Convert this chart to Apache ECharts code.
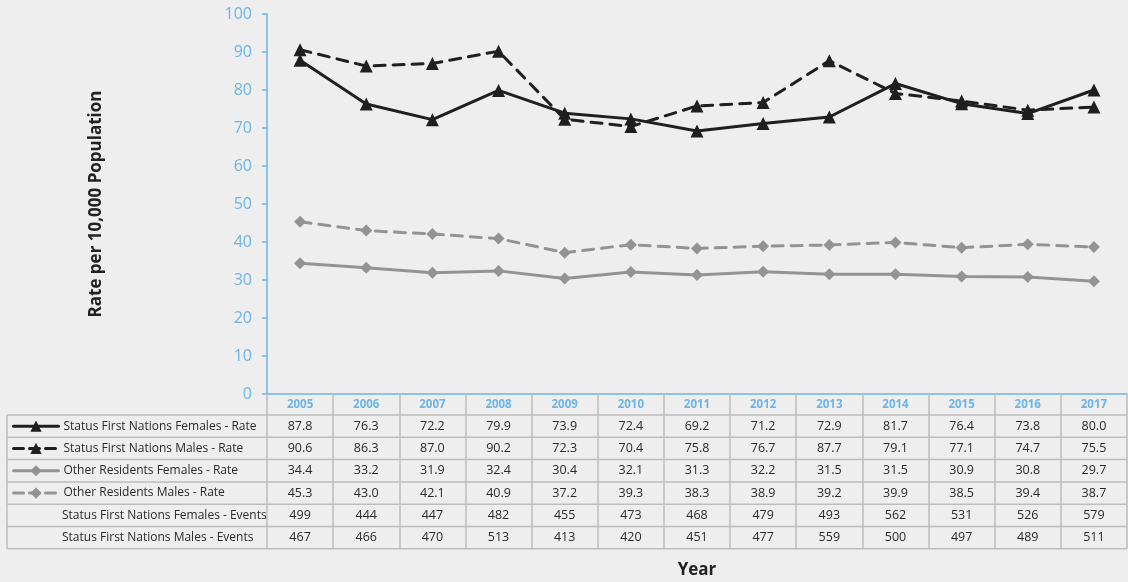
<!DOCTYPE html>
<html>
<head>
<meta charset="utf-8">
<script src="https://cdn.jsdelivr.net/npm/echarts@6/dist/echarts.min.js"></script>
<style>
  html, body { margin: 0; padding: 0; background: #eeeeee; }
  #chart { width: 1128px; height: 582px; }
</style>
</head>
<body>
<div id="chart"></div>
<script>
// Categories
const years = ['2005','2006','2007','2008','2009','2010','2011','2012','2013','2014','2015','2016','2017'];

// Rates per 10,000 population
const sfnFemalesRate = [87.8, 76.3, 72.2, 79.9, 73.9, 72.4, 69.2, 71.2, 72.9, 81.7, 76.4, 73.8, 80.0];
const sfnMalesRate   = [90.6, 86.3, 87.0, 90.2, 72.3, 70.4, 75.8, 76.7, 87.7, 79.1, 77.1, 74.7, 75.5];
const orFemalesRate  = [34.4, 33.2, 31.9, 32.4, 30.4, 32.1, 31.3, 32.2, 31.5, 31.5, 30.9, 30.8, 29.7];
const orMalesRate    = [45.3, 43.0, 42.1, 40.9, 37.2, 39.3, 38.3, 38.9, 39.2, 39.9, 38.5, 39.4, 38.7];

// Event counts
const sfnFemalesEvents = [499, 444, 447, 482, 455, 473, 468, 479, 493, 562, 531, 526, 579];
const sfnMalesEvents   = [467, 466, 470, 513, 413, 420, 451, 477, 559, 500, 497, 489, 511];

// Row labels
const rowNames = [
  'Status First Nations Females - Rate',
  'Status First Nations Males - Rate',
  'Other Residents Females - Rate',
  'Other Residents Males - Rate',
  'Status First Nations Females - Events',
  'Status First Nations Males - Events'
];

// Y axis
const yMin = 0, yMax = 100, yStep = 10;

// Layout
const W = 1128;
const GRID_LEFT = 267, GRID_RIGHT = 1, GRID_TOP = 14, GRID_H = 380;
const AXIS_Y = GRID_TOP + GRID_H;        // 394
const HEADER_H = 21;
const ROW_H = 22.3;
const TABLE_LEFT = 7;
const TABLE_RIGHT = W - GRID_RIGHT;
const FONT = '"Open Sans", "Noto Sans", sans-serif';
const BLUE = '#6db5e6';
const GRID_GRAY = '#bdbdbd';
const BLACK = '#1f1f1f';
const GREY = '#939393';

const rows = [
  sfnFemalesRate.map(v => v.toFixed(1)),
  sfnMalesRate.map(v => v.toFixed(1)),
  orFemalesRate.map(v => v.toFixed(1)),
  orMalesRate.map(v => v.toFixed(1)),
  sfnFemalesEvents.map(String),
  sfnMalesEvents.map(String)
];
const nRows = rows.length;
const tableBottom = AXIS_Y + HEADER_H + ROW_H * nRows;
const rowCenter = i => AXIS_Y + HEADER_H + ROW_H * i + ROW_H / 2;

// Main category axis (header row with years) plus one axis per table row
const xAxes = [{
  type: 'category',
  data: years,
  boundaryGap: true,
  axisLine: { show: true, lineStyle: { color: BLUE, width: 1.5 } },
  axisTick: { show: true, interval: 0, length: tableBottom - AXIS_Y, lineStyle: { color: GRID_GRAY, width: 1.5 } },
  axisLabel: { interval: 0, margin: HEADER_H / 2, verticalAlign: 'middle', color: BLUE, fontFamily: FONT, fontSize: 11.5, fontWeight: 'bold' },
  splitLine: { show: false }
}];
rows.forEach((r, i) => {
  xAxes.push({
    type: 'category',
    gridIndex: 0,
    position: 'bottom',
    data: r,
    offset: rowCenter(i) - AXIS_Y,
    boundaryGap: true,
    axisLine: { show: false },
    axisTick: { show: false },
    axisPointer: { show: false },
    axisLabel: { interval: 0, margin: 0, verticalAlign: 'middle', color: '#2a2a2a', fontFamily: FONT, fontSize: 12.5 }
  });
});

function lineSeries(name, data, color, dashed, symbol, size) {
  return {
    name: name,
    type: 'line',
    xAxisIndex: 0,
    data: data,
    symbol: symbol,
    symbolSize: size,
    showSymbol: true,
    lineStyle: { color: color, width: 3, type: dashed ? [11, 8] : 'solid', cap: 'round' },
    itemStyle: { color: color },
    emphasis: { disabled: true },
    z: 3
  };
}

const series = [
  lineSeries(rowNames[0], sfnFemalesRate, BLACK, false, 'triangle', 13),
  lineSeries(rowNames[1], sfnMalesRate, BLACK, true, 'triangle', 13),
  lineSeries(rowNames[2], orFemalesRate, GREY, false, 'diamond', 12),
  lineSeries(rowNames[3], orMalesRate, GREY, true, 'diamond', 12)
];

// One legend per row so that each sits in its table row
const legends = [0, 1, 2, 3].map(i => ({
  data: [rowNames[i]],
  left: 12,
  top: rowCenter(i) - 7,
  padding: 0,
  itemWidth: 45,
  itemHeight: 14,
  itemGap: 0,
  selectedMode: false,
  lineStyle: { width: 3, type: i % 2 === 1 ? [10, 6] : 'solid' },
  textStyle: { color: '#2a2a2a', fontFamily: FONT, fontSize: 12, lineHeight: 14 }
}));

// Table rules
const graphics = [];
const hLine = y => ({
  type: 'line', silent: true,
  shape: { x1: TABLE_LEFT, y1: y, x2: TABLE_RIGHT, y2: y },
  style: { stroke: GRID_GRAY, lineWidth: 1.5 }
});
for (let i = 0; i <= nRows; i++) graphics.push(hLine(AXIS_Y + HEADER_H + ROW_H * i));
graphics.push({
  type: 'line', silent: true,
  shape: { x1: TABLE_LEFT, y1: AXIS_Y + HEADER_H, x2: TABLE_LEFT, y2: tableBottom },
  style: { stroke: GRID_GRAY, lineWidth: 1.5 }
});
// Text-only rows (event counts)
[4, 5].forEach(i => {
  graphics.push({
    type: 'text', silent: true,
    x: 62, y: rowCenter(i),
    style: { text: rowNames[i], fill: '#2a2a2a', font: '12px ' + FONT, verticalAlign: 'middle', align: 'left' }
  });
});
// X axis title
graphics.push({
  type: 'text', silent: true,
  x: GRID_LEFT + (TABLE_RIGHT - GRID_LEFT) / 2, y: 570,
  style: { text: 'Year', fill: '#222', font: 'bold 17px ' + FONT, align: 'center', verticalAlign: 'middle' }
});

const chart = echarts.init(document.getElementById('chart'), null, { renderer: 'canvas' });
chart.setOption({
  backgroundColor: '#eeeeee',
  animation: false,
  grid: { left: GRID_LEFT, right: GRID_RIGHT, top: GRID_TOP, height: GRID_H, containLabel: false, outerBoundsMode: 'none' },
  xAxis: xAxes,
  yAxis: {
    type: 'value',
    min: yMin, max: yMax, interval: yStep,
    name: 'Rate per 10,000 Population',
    nameLocation: 'middle',
    nameRotate: 90,
    nameGap: 162,
    nameTextStyle: { color: '#222', fontFamily: FONT, fontSize: 17, fontWeight: 'bold' },
    axisLine: { show: true, lineStyle: { color: BLUE, width: 1.5 } },
    axisTick: { show: true, length: 5, lineStyle: { color: BLUE, width: 1.5 } },
    axisLabel: { margin: 15, color: BLUE, fontFamily: FONT, fontSize: 16 },
    splitLine: { show: false }
  },
  legend: legends,
  series: series,
  graphic: graphics
});
</script>
</body>
</html>
